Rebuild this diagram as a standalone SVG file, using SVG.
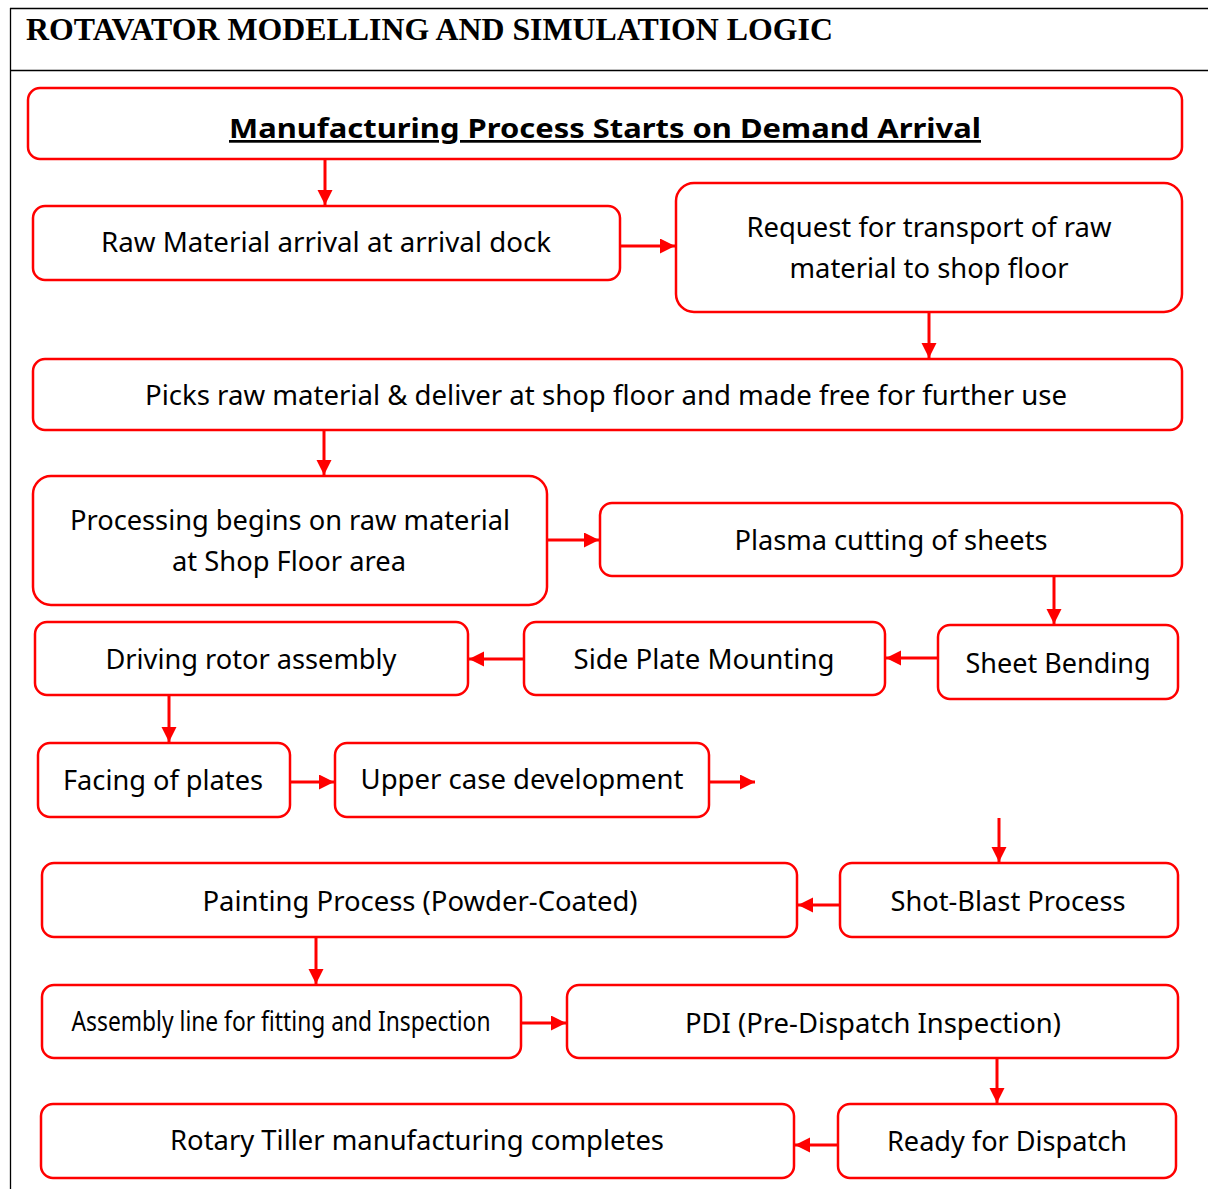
<svg xmlns="http://www.w3.org/2000/svg" width="1208" height="1189" viewBox="0 0 1208 1189">
<style>
.box{fill:#fff;stroke:#ff0000;stroke-width:2.5}
.t{font-family:"Noto Sans","Open Sans",sans-serif;font-size:27px;fill:#000;text-anchor:middle}
.c{stroke:#ff0000;stroke-width:3;fill:none;marker-end:url(#ah)}
.frame{stroke:#000;stroke-width:1.3;fill:none}
</style>
<defs>
<marker id="ah" markerWidth="6" markerHeight="6" refX="5" refY="2.5" orient="auto" markerUnits="strokeWidth">
<path d="M0,0 L5,2.5 L0,5 z" fill="#ff0000"/>
</marker>
</defs>
<rect width="1208" height="1189" fill="#fff"/>
<g id="frame">
<line class="frame" x1="10" y1="8.5" x2="1208" y2="8.5"/>
<line class="frame" x1="10.5" y1="8" x2="10.5" y2="1189"/>
<line class="frame" x1="10" y1="70.5" x2="1208" y2="70.5"/>
<text x="26" y="40" font-family="Liberation Serif,serif" font-weight="bold" font-size="32" textLength="807" lengthAdjust="spacingAndGlyphs">ROTAVATOR MODELLING AND SIMULATION LOGIC</text>
</g>
<g id="connectors">
<line class="c" x1="325" y1="159" x2="325" y2="205"/>
<line class="c" x1="620" y1="246" x2="675" y2="246"/>
<line class="c" x1="929" y1="312" x2="929" y2="358"/>
<line class="c" x1="324" y1="430" x2="324" y2="475"/>
<line class="c" x1="547" y1="540" x2="599" y2="540"/>
<line class="c" x1="1054" y1="576" x2="1054" y2="624"/>
<line class="c" x1="938" y1="658" x2="886" y2="658"/>
<line class="c" x1="524" y1="659" x2="469" y2="659"/>
<line class="c" x1="169" y1="695" x2="169" y2="742"/>
<line class="c" x1="290" y1="782" x2="334" y2="782"/>
<line class="c" x1="709" y1="782" x2="755" y2="782"/>
<line class="c" x1="999" y1="818" x2="999" y2="862"/>
<line class="c" x1="840" y1="905" x2="798" y2="905"/>
<line class="c" x1="316" y1="937" x2="316" y2="984"/>
<line class="c" x1="521" y1="1023" x2="566" y2="1023"/>
<line class="c" x1="997" y1="1058" x2="997" y2="1103"/>
<line class="c" x1="838" y1="1145" x2="795" y2="1145"/>
</g>
<g id="n-start">
<rect class="box" x="28" y="88" width="1154" height="71" rx="12"/>
<text class="t" x="605" y="138" font-size="31" font-weight="bold" text-decoration="underline" textLength="752" lengthAdjust="spacingAndGlyphs">Manufacturing Process Starts on Demand Arrival</text>
</g>
<g id="n-raw">
<rect class="box" x="33" y="206" width="587" height="74" rx="12"/>
<text class="t" x="326" y="252" textLength="450" lengthAdjust="spacingAndGlyphs">Raw Material arrival at arrival dock</text>
</g>
<g id="n-request">
<rect class="box" x="676" y="183" width="506" height="129" rx="18"/>
<text class="t" x="929" y="237" textLength="365" lengthAdjust="spacingAndGlyphs">Request for transport of raw</text>
<text class="t" x="929" y="278" textLength="279" lengthAdjust="spacingAndGlyphs">material to shop floor</text>
</g>
<g id="n-picks">
<rect class="box" x="33" y="359" width="1149" height="71" rx="12"/>
<text class="t" x="606" y="405" textLength="922" lengthAdjust="spacingAndGlyphs">Picks raw material &amp; deliver at shop floor and made free for further use</text>
</g>
<g id="n-processing">
<rect class="box" x="33" y="476" width="514" height="129" rx="18"/>
<text class="t" x="290" y="530" textLength="440" lengthAdjust="spacingAndGlyphs">Processing begins on raw material</text>
<text class="t" x="289" y="571" textLength="234" lengthAdjust="spacingAndGlyphs">at Shop Floor area</text>
</g>
<g id="n-plasma">
<rect class="box" x="600" y="503" width="582" height="73" rx="12"/>
<text class="t" x="891" y="550" textLength="313" lengthAdjust="spacingAndGlyphs">Plasma cutting of sheets</text>
</g>
<g id="n-bending">
<rect class="box" x="938" y="625" width="240" height="74" rx="12"/>
<text class="t" x="1058" y="673" textLength="185" lengthAdjust="spacingAndGlyphs">Sheet Bending</text>
</g>
<g id="n-sideplate">
<rect class="box" x="524" y="622" width="361" height="73" rx="12"/>
<text class="t" x="704" y="669" textLength="261" lengthAdjust="spacingAndGlyphs">Side Plate Mounting</text>
</g>
<g id="n-rotor">
<rect class="box" x="35" y="622" width="433" height="73" rx="12"/>
<text class="t" x="251" y="669" textLength="291" lengthAdjust="spacingAndGlyphs">Driving rotor assembly</text>
</g>
<g id="n-facing">
<rect class="box" x="38" y="743" width="252" height="74" rx="12"/>
<text class="t" x="163" y="790" textLength="200" lengthAdjust="spacingAndGlyphs">Facing of plates</text>
</g>
<g id="n-uppercase">
<rect class="box" x="335" y="743" width="374" height="74" rx="12"/>
<text class="t" x="522" y="789" textLength="323" lengthAdjust="spacingAndGlyphs">Upper case development</text>
</g>
<g id="n-shotblast">
<rect class="box" x="840" y="863" width="338" height="74" rx="12"/>
<text class="t" x="1008" y="911" textLength="235" lengthAdjust="spacingAndGlyphs">Shot-Blast Process</text>
</g>
<g id="n-painting">
<rect class="box" x="42" y="863" width="755" height="74" rx="12"/>
<text class="t" x="420" y="911" textLength="435" lengthAdjust="spacingAndGlyphs">Painting Process (Powder-Coated)</text>
</g>
<g id="n-assembly">
<rect class="box" x="42" y="985" width="479" height="73" rx="12"/>
<text class="t" x="281" y="1031" font-size="23.5" textLength="419" lengthAdjust="spacingAndGlyphs">Assembly line for fitting and Inspection</text>
</g>
<g id="n-pdi">
<rect class="box" x="567" y="985" width="611" height="73" rx="12"/>
<text class="t" x="873" y="1033" textLength="376" lengthAdjust="spacingAndGlyphs">PDI (Pre-Dispatch Inspection)</text>
</g>
<g id="n-ready">
<rect class="box" x="838" y="1104" width="338" height="74" rx="12"/>
<text class="t" x="1007" y="1151" textLength="240" lengthAdjust="spacingAndGlyphs">Ready for Dispatch</text>
</g>
<g id="n-complete">
<rect class="box" x="41" y="1104" width="753" height="74" rx="12"/>
<text class="t" x="417" y="1150" textLength="494" lengthAdjust="spacingAndGlyphs">Rotary Tiller manufacturing completes</text>
</g>
</svg>
